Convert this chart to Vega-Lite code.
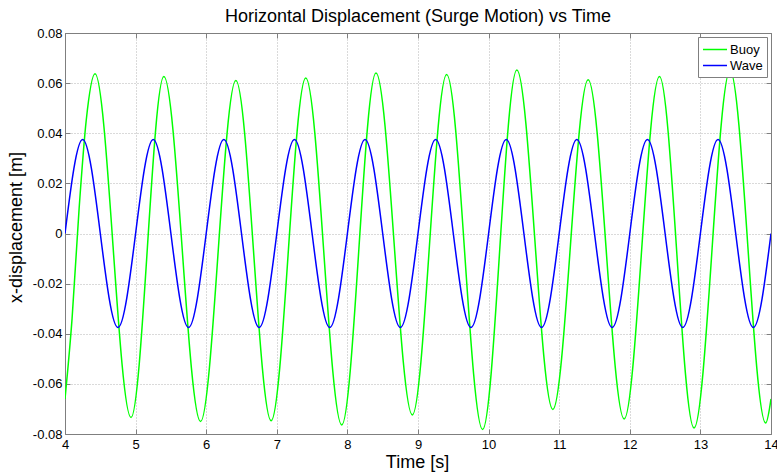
{
  "$schema": "https://vega.github.io/schema/vega-lite/v6.json",
  "width": 706,
  "height": 401,
  "autosize": {"type": "none"},
  "padding": {"left": 65, "top": 33, "right": 6, "bottom": 39},
  "background": "white",
  "view": {"stroke": null},
  "config": {
    "font": "Liberation Sans",
    "axis": {"labelFont": "Liberation Sans", "titleFont": "Liberation Sans", "labelColor": "#000000", "titleColor": "#000000", "titleFontWeight": "normal"}
  },
  "title": {
    "text": "Horizontal Displacement (Surge Motion) vs Time",
    "font": "Liberation Sans",
    "fontSize": 18,
    "fontWeight": "normal",
    "color": "#000000",
    "anchor": "middle",
    "baseline": "alphabetic",
    "offset": 11,
    "dy": 24
  },
  "datasets": {
    "buoy": [
      {"t": 4.0, "x": -0.066, "s": "Buoy"},
      {"t": 4.1, "x": -0.034, "s": "Buoy"},
      {"t": 4.2, "x": 0.010, "s": "Buoy"},
      {"t": 4.3, "x": 0.045, "s": "Buoy"},
      {"t": 4.425, "x": 0.0637, "s": "Buoy"},
      {"t": 4.935, "x": -0.0734, "s": "Buoy"},
      {"t": 5.40, "x": 0.0626, "s": "Buoy"},
      {"t": 5.92, "x": -0.075, "s": "Buoy"},
      {"t": 6.42, "x": 0.061, "s": "Buoy"},
      {"t": 6.92, "x": -0.0747, "s": "Buoy"},
      {"t": 7.41, "x": 0.062, "s": "Buoy"},
      {"t": 7.92, "x": -0.0764, "s": "Buoy"},
      {"t": 8.405, "x": 0.064, "s": "Buoy"},
      {"t": 8.92, "x": -0.0724, "s": "Buoy"},
      {"t": 9.406, "x": 0.0634, "s": "Buoy"},
      {"t": 9.915, "x": -0.0782, "s": "Buoy"},
      {"t": 10.40, "x": 0.0652, "s": "Buoy"},
      {"t": 10.91, "x": -0.0702, "s": "Buoy"},
      {"t": 11.41, "x": 0.0613, "s": "Buoy"},
      {"t": 11.92, "x": -0.074, "s": "Buoy"},
      {"t": 12.42, "x": 0.0626, "s": "Buoy"},
      {"t": 12.91, "x": -0.0776, "s": "Buoy"},
      {"t": 13.42, "x": 0.065, "s": "Buoy"},
      {"t": 13.925, "x": -0.0756, "s": "Buoy"},
      {"t": 14.0, "x": -0.066, "s": "Buoy"}
    ],
    "wave": [
      {"t": 4.0, "x": 0.0, "s": "Wave"},
      {"t": 4.25, "x": 0.0375, "s": "Wave"},
      {"t": 4.75, "x": -0.0375, "s": "Wave"},
      {"t": 5.25, "x": 0.0375, "s": "Wave"},
      {"t": 5.75, "x": -0.0375, "s": "Wave"},
      {"t": 6.25, "x": 0.0375, "s": "Wave"},
      {"t": 6.75, "x": -0.0375, "s": "Wave"},
      {"t": 7.25, "x": 0.0375, "s": "Wave"},
      {"t": 7.75, "x": -0.0375, "s": "Wave"},
      {"t": 8.25, "x": 0.0375, "s": "Wave"},
      {"t": 8.75, "x": -0.0375, "s": "Wave"},
      {"t": 9.25, "x": 0.0375, "s": "Wave"},
      {"t": 9.75, "x": -0.0375, "s": "Wave"},
      {"t": 10.25, "x": 0.0375, "s": "Wave"},
      {"t": 10.75, "x": -0.0375, "s": "Wave"},
      {"t": 11.25, "x": 0.0375, "s": "Wave"},
      {"t": 11.75, "x": -0.0375, "s": "Wave"},
      {"t": 12.25, "x": 0.0375, "s": "Wave"},
      {"t": 12.75, "x": -0.0375, "s": "Wave"},
      {"t": 13.25, "x": 0.0375, "s": "Wave"},
      {"t": 13.75, "x": -0.0375, "s": "Wave"},
      {"t": 14.0, "x": 0.0, "s": "Wave"}
    ]
  },
  "layer": [
    {
      "data": {"name": "buoy"},
      "mark": {"type": "line", "interpolate": "monotone", "strokeWidth": 1.5, "clip": true},
      "encoding": {
        "x": {
          "field": "t", "type": "quantitative",
          "scale": {"domain": [4, 14], "nice": false, "zero": false},
          "axis": {
            "orient": "bottom",
            "values": [4, 5, 6, 7, 8, 9, 10, 11, 12, 13, 14],
            "format": "d",
            "grid": true, "gridDash": [1, 2], "gridColor": "#b4b4b4", "gridOpacity": 1,
            "domainColor": "#7f7f7f", "tickColor": "#7f7f7f", "tickSize": -5,
            "labelFontSize": 13, "labelPadding": 9, "labelFlush": false,
            "title": "Time [s]", "titleFontSize": 18, "titleBaseline": "alphabetic",
            "titleX": 352, "titleY": 33
          }
        },
        "y": {
          "field": "x", "type": "quantitative",
          "scale": {"domain": [-0.08, 0.08], "nice": false, "zero": false},
          "axis": {
            "orient": "left",
            "values": [-0.08, -0.06, -0.04, -0.02, 0, 0.02, 0.04, 0.06, 0.08],
            "labelExpr": "datum.value == 0 ? '0' : (datum.value < 0 ? '-' : '') + format(abs(datum.value), '.2f')",
            "grid": true, "gridDash": [1, 2], "gridColor": "#b4b4b4", "gridOpacity": 1,
            "domainColor": "#7f7f7f", "tickColor": "#7f7f7f", "tickSize": -5,
            "labelFontSize": 13, "labelPadding": 8, "labelFlush": false,
            "title": "x-displacement [m]", "titleFontSize": 18, "titleBaseline": "alphabetic",
            "titleX": -44, "titleY": 194, "titleAngle": -90, "titleAlign": "center"
          }
        },
        "color": {
          "field": "s", "type": "nominal",
          "scale": {"domain": ["Buoy", "Wave"], "range": ["#00ff00", "#0000ff"]},
          "legend": {
            "title": null, "orient": "none", "legendX": 633, "legendY": 4,
            "symbolType": "M-1,0H2.2", "symbolSize": 225, "symbolStrokeWidth": 1.5,
            "labelFont": "Liberation Sans", "labelFontSize": 13, "labelColor": "#000000", "labelOffset": 11,
            "strokeColor": "#7f7f7f", "fillColor": "#ffffff", "padding": 4, "rowPadding": 0, "columnPadding": 0
          }
        }
      }
    },
    {
      "data": {"name": "wave"},
      "mark": {"type": "line", "interpolate": "monotone", "strokeWidth": 1.5, "clip": true},
      "encoding": {
        "x": {
          "field": "t", "type": "quantitative",
          "axis": {
            "orient": "top",
            "values": [4, 5, 6, 7, 8, 9, 10, 11, 12, 13, 14],
            "labels": false, "grid": false, "title": null,
            "domainColor": "#7f7f7f", "tickColor": "#7f7f7f", "tickSize": -5
          }
        },
        "y": {
          "field": "x", "type": "quantitative",
          "axis": {
            "orient": "right",
            "values": [-0.08, -0.06, -0.04, -0.02, 0, 0.02, 0.04, 0.06, 0.08],
            "labels": false, "grid": false, "title": null,
            "domainColor": "#7f7f7f", "tickColor": "#7f7f7f", "tickSize": -5
          }
        },
        "color": {
          "field": "s", "type": "nominal",
          "legend": {
            "title": null, "orient": "none", "legendX": 633, "legendY": 4,
            "symbolType": "M-1,0H2.2", "symbolSize": 225, "symbolStrokeWidth": 1.5,
            "labelFont": "Liberation Sans", "labelFontSize": 13, "labelColor": "#000000", "labelOffset": 11,
            "strokeColor": "#7f7f7f", "fillColor": "#ffffff", "padding": 4, "rowPadding": 0, "columnPadding": 0
          }
        }
      }
    }
  ],
  "resolve": {"axis": {"x": "independent", "y": "independent"}}
}
